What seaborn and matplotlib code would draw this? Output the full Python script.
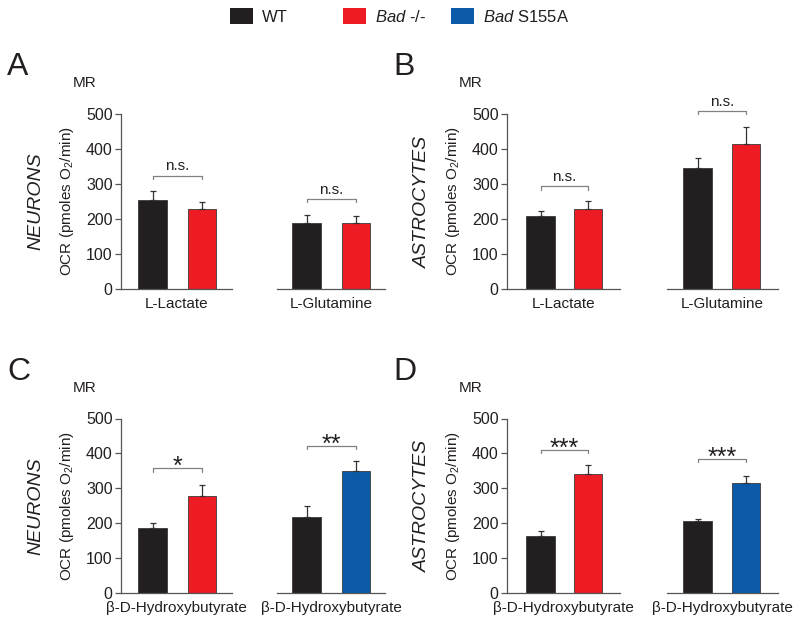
import matplotlib
matplotlib.use("Agg")
import matplotlib.pyplot as plt
from matplotlib.patches import Patch
import seaborn as sns
import pandas as pd

# ---------------- data ----------------
genotypes_bad = ["WT", "Bad -/-"]
genotypes_s155a = ["WT", "Bad S155A"]

a_lactate_mean = [255, 228]
a_lactate_err = [26, 20]
a_glutamine_mean = [188, 188]
a_glutamine_err = [24, 22]

b_lactate_mean = [209, 228]
b_lactate_err = [13, 24]
b_glutamine_mean = [345, 415]
b_glutamine_err = [29, 48]

c_bhb_bad_mean = [185, 279]
c_bhb_bad_err = [16, 31]
c_bhb_s155a_mean = [218, 349]
c_bhb_s155a_err = [32, 29]

d_bhb_bad_mean = [162, 342]
d_bhb_bad_err = [17, 26]
d_bhb_s155a_mean = [207, 315]
d_bhb_s155a_err = [6, 21]

substrates = ["L-Lactate", "L-Glutamine", "\u03b2-D-Hydroxybutyrate"]
significance = {"A": ["n.s.", "n.s."], "B": ["n.s.", "n.s."],
                "C": ["*", "**"], "D": ["***", "***"]}
bracket_levels = {"A": [324, 257], "B": [293, 508], "C": [357, 422], "D": [410, 383]}
yticks = [0, 100, 200, 300, 400, 500]

palette = {"WT": "#231f20", "Bad -/-": "#ed1c24", "Bad S155A": "#0a5aa8"}

# ---------------- style ----------------
sns.set_theme(style="ticks")
plt.rcParams["font.family"] = ["Liberation Sans", "DejaVu Sans"]
plt.rcParams["mathtext.fontset"] = "custom"
plt.rcParams["mathtext.rm"] = "Liberation Sans"
plt.rcParams["mathtext.it"] = "Liberation Sans:italic"
TXT = "#231f20"
SPINE = "#555555"

W, H = 800, 624
fig = plt.figure(figsize=(W / 100, H / 100), dpi=100)


def make_ax(left, right, top, bottom):
    return fig.add_axes([left / W, 1 - bottom / H, (right - left) / W, (bottom - top) / H])


def draw_pair(left, right, top, bottom, c0, c1, genos, means, errs, xlabel,
              sig, blevel, first):
    ax = make_ax(left, right, top, bottom)
    df = pd.DataFrame({"genotype": genos, "ocr": means})
    u = c1 - c0
    bw = 28.5 / u
    sns.barplot(data=df, x="genotype", y="ocr", hue="genotype", order=genos,
                hue_order=genos, palette=palette, width=bw, errorbar=None,
                legend=False, ax=ax, edgecolor="#3a3a3a", linewidth=0.6,
                saturation=1)
    ax.errorbar(x=[0, 1], y=means, yerr=[[0, 0], errs], fmt="none",
                ecolor="#333333", elinewidth=0.9, capsize=2.5, capthick=0.9,
                zorder=5)
    ax.set_xlim(-(c0 - left) / u, 1 + (right - c1) / u)
    ax.set_ylim(0, 500)
    ax.set_xticks([])
    ax.set_xlabel(xlabel, fontsize=11, color=TXT, labelpad=6)
    ax.set_ylabel("")
    for s in ["top", "right"]:
        ax.spines[s].set_visible(False)
    ax.spines["bottom"].set_color(SPINE)
    ax.spines["bottom"].set_linewidth(0.9)
    if first:
        ax.spines["left"].set_color(SPINE)
        ax.spines["left"].set_linewidth(0.9)
        ax.set_yticks(yticks)
        ax.tick_params(axis="y", length=4, width=0.9, color=SPINE,
                       labelsize=11.5, labelcolor=TXT, pad=2)
    else:
        ax.spines["left"].set_visible(False)
        ax.set_yticks([])
    # significance bracket
    ax.plot([0, 0, 1, 1], [blevel - 9, blevel, blevel, blevel - 9],
            color="#808080", lw=0.9, clip_on=False)
    if "*" in sig:
        ax.text(0.5, blevel - 17, sig, ha="center", va="baseline", fontsize=18,
                color=TXT, clip_on=False)
    else:
        ax.text(0.5, blevel + 6, sig, ha="center", va="bottom", fontsize=11,
                color=TXT, clip_on=False)
    return ax


rows = {"top": (114, 289), "bottom": (418.5, 593)}
left_col = [(121, 232, 152.5, 202), (277, 385, 306.5, 356)]
right_col = [(507, 620, 540.5, 588), (667, 778, 697.5, 746)]

panels = [
    ("A", rows["top"], left_col, "NEURONS",
     [(genotypes_bad, a_lactate_mean, a_lactate_err, substrates[0]),
      (genotypes_bad, a_glutamine_mean, a_glutamine_err, substrates[1])]),
    ("B", rows["top"], right_col, "ASTROCYTES",
     [(genotypes_bad, b_lactate_mean, b_lactate_err, substrates[0]),
      (genotypes_bad, b_glutamine_mean, b_glutamine_err, substrates[1])]),
    ("C", rows["bottom"], left_col, "NEURONS",
     [(genotypes_bad, c_bhb_bad_mean, c_bhb_bad_err, substrates[2]),
      (genotypes_s155a, c_bhb_s155a_mean, c_bhb_s155a_err, substrates[2])]),
    ("D", rows["bottom"], right_col, "ASTROCYTES",
     [(genotypes_bad, d_bhb_bad_mean, d_bhb_bad_err, substrates[2]),
      (genotypes_s155a, d_bhb_s155a_mean, d_bhb_s155a_err, substrates[2])]),
]

for letter, (top, bottom), col, cell, pairs in panels:
    for i, ((l, r, c0, c1), (genos, m, e, lab)) in enumerate(zip(col, pairs)):
        draw_pair(l, r, top, bottom, c0, c1, genos, m, e, lab,
                  significance[letter][i], bracket_levels[letter][i], i == 0)
    spine_x = col[0][0]
    ymid = 1 - (top + bottom) / 2 / H
    fig.text((spine_x - 54) / W, ymid, "OCR (pmoles O$_2$/min)", rotation=90,
             ha="center", va="center", fontsize=11, color=TXT)
    fig.text((spine_x - 85) / W, ymid, cell, rotation=90, ha="center",
             va="center", fontsize=14, style="italic", color=TXT)
    fig.text((spine_x - 114) / W, 1 - (top - 47) / H, letter, ha="left",
             va="center", fontsize=23, color=TXT)
    fig.text((spine_x - 48) / W, 1 - (top - 31) / H, "MR", ha="left",
             va="center", fontsize=11, color=TXT)

# legend (three entries placed individually)
legend_items = [("WT", "WT", 230), ("Bad -/-", "$\\it{Bad}$ -/-", 343),
                ("Bad S155A", "$\\it{Bad}$ S155A", 451)]
for key, label, xpx in legend_items:
    leg = fig.legend(handles=[Patch(facecolor=palette[key], edgecolor="none")],
                     labels=[label], loc="upper left",
                     bbox_to_anchor=(xpx / W, 1 - 8 / H), frameon=False,
                     fontsize=12, handlelength=1.38, handleheight=1.08,
                     handletextpad=0.55, borderpad=0, borderaxespad=0)
    for t in leg.get_texts():
        t.set_color(TXT)

fig.savefig("out.png", dpi=100)
